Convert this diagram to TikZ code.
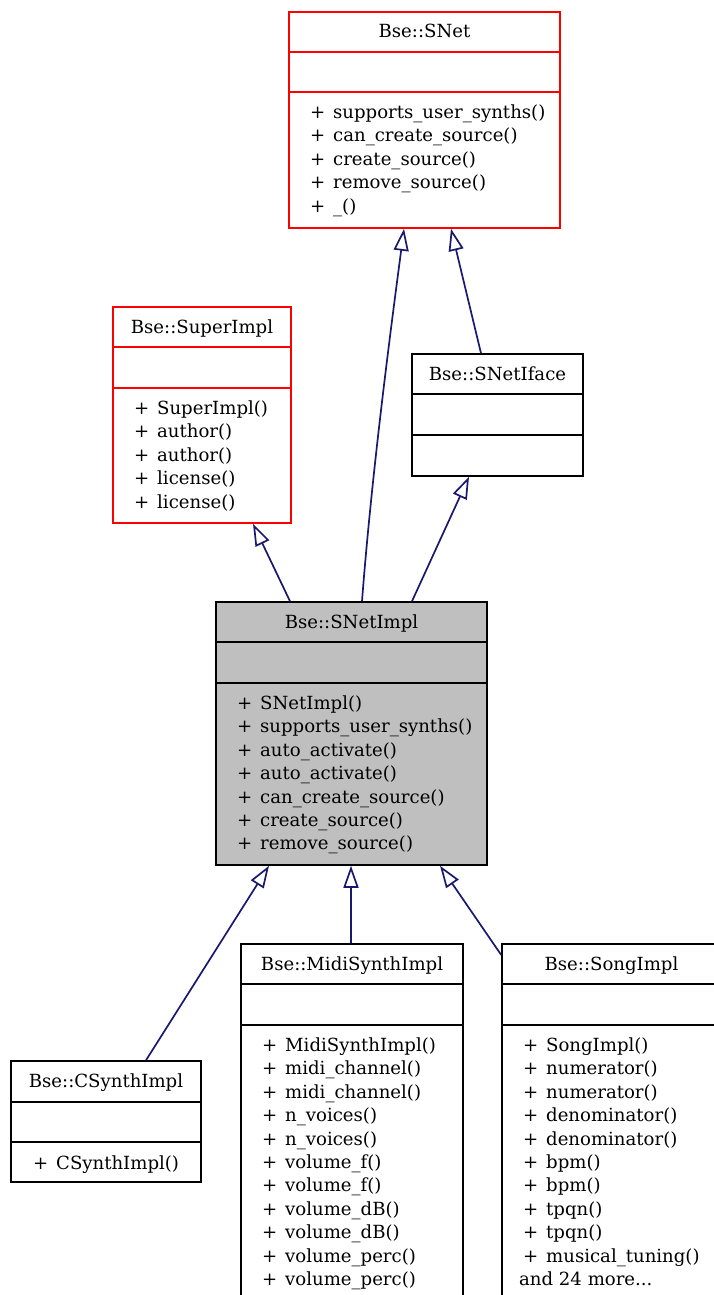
\documentclass[tikz,border=0pt]{standalone}
\usepackage{fontspec}
\setmainfont{DejaVu Serif}
\usetikzlibrary{arrows.meta,fit}

\definecolor{edgeblue}{HTML}{191970}
\definecolor{implgray}{HTML}{BFBFBF}
\definecolor{basered}{HTML}{FF0000}

% visibility marker followed by a fixed gap
\newcommand{\vis}{\makebox[23pt][l]{+}}

% one text node per member line, 23.4 units apart
\newcommand{\memberlist}[4]{%
  \foreach \m [count=\i from 0] in {#4}
    \node[member, name=#1-\i] at (#2, {#3+23.4*\i}) {\m};}

\tikzset{
  umltext/.style={inner sep=0pt, font=\fontsize{18.1pt}{23.4pt}\selectfont},
  classbox/.style={draw=black, line width=1.5pt, inner sep=0pt},
  basebox/.style={classbox, draw=basered},
  currentbox/.style={classbox, fill=implgray},
  divider/.style={line width=1.5pt},
  title/.style={umltext, anchor=base},
  member/.style={umltext, anchor=base west},
  inherit/.style={draw=edgeblue, line width=1.7pt,
    -{Triangle[open, length=22pt, width=15pt, line width=1.7pt]}},
}

\begin{document}
\begin{tikzpicture}[x=1pt, y=-1pt]
\useasboundingbox (0,0) rectangle (714,1295);
\clip (0,0) rectangle (714,1295);
\fill[white] (0,0) rectangle (714,1295);

% Bse::SNet
\node[basebox, fit={(289,12) (560,228)}] (snet) {};
\draw[divider, basered] (snet.west |- 0,52) -- (snet.east |- 0,52);
\draw[divider, basered] (snet.west |- 0,92) -- (snet.east |- 0,92);
\node[title] (snet-t) at (424.5,38) {Bse::SNet};
\memberlist{snet-m}{310}{118.5}{\vis supports\_user\_synths(), \vis can\_create\_source(), \vis create\_source(), \vis remove\_source(), \vis \_()}

% Bse::SuperImpl
\node[basebox, fit={(113,307) (291,523)}] (superimpl) {};
\draw[divider, basered] (superimpl.west |- 0,347) -- (superimpl.east |- 0,347);
\draw[divider, basered] (superimpl.west |- 0,388) -- (superimpl.east |- 0,388);
\node[title] (superimpl-t) at (202,333) {Bse::SuperImpl};
\memberlist{superimpl-m}{134}{414.5}{\vis SuperImpl(), \vis author(), \vis author(), \vis license(), \vis license()}

% Bse::SNetIface
\node[classbox, fit={(412,354) (583,476)}] (snetiface) {};
\draw[divider] (snetiface.west |- 0,394) -- (snetiface.east |- 0,394);
\draw[divider] (snetiface.west |- 0,435) -- (snetiface.east |- 0,435);
\node[title] (snetiface-t) at (497.5,380) {Bse::SNetIface};

% Bse::SNetImpl
\node[currentbox, fit={(216,602) (487,865)}] (snetimpl) {};
\draw[divider] (snetimpl.west |- 0,642) -- (snetimpl.east |- 0,642);
\draw[divider] (snetimpl.west |- 0,683) -- (snetimpl.east |- 0,683);
\node[title] (snetimpl-t) at (351.5,628) {Bse::SNetImpl};
\memberlist{snetimpl-m}{237}{709.5}{\vis SNetImpl(), \vis supports\_user\_synths(), \vis auto\_activate(), \vis auto\_activate(), \vis can\_create\_source(), \vis create\_source(), \vis remove\_source()}

% Bse::CSynthImpl
\node[classbox, fit={(11,1061) (201,1182)}] (csynth) {};
\draw[divider] (csynth.west |- 0,1102) -- (csynth.east |- 0,1102);
\draw[divider] (csynth.west |- 0,1142) -- (csynth.east |- 0,1142);
\node[title] (csynth-t) at (106,1087) {Bse::CSynthImpl};
\memberlist{csynth-m}{33}{1169}{\vis CSynthImpl()}

% Bse::MidiSynthImpl
\node[classbox, fit={(241,944) (463,1400)}] (midi) {};
\draw[divider] (midi.west |- 0,984) -- (midi.east |- 0,984);
\draw[divider] (midi.west |- 0,1025) -- (midi.east |- 0,1025);
\node[title] (midi-t) at (352,970) {Bse::MidiSynthImpl};
\memberlist{midi-m}{262}{1051.5}{\vis MidiSynthImpl(), \vis midi\_channel(), \vis midi\_channel(), \vis n\_voices(), \vis n\_voices(), \vis volume\_f(), \vis volume\_f(), \vis volume\_dB(), \vis volume\_dB(), \vis volume\_perc(), \vis volume\_perc()}

% Bse::SongImpl
\node[classbox, fit={(502,944) (721,1400)}] (song) {};
\draw[divider] (song.west |- 0,984) -- (song.east |- 0,984);
\draw[divider] (song.west |- 0,1025) -- (song.east |- 0,1025);
\node[title] (song-t) at (611.5,970) {Bse::SongImpl};
\memberlist{song-m}{523}{1051.5}{\vis SongImpl(), \vis numerator(), \vis numerator(), \vis denominator(), \vis denominator(), \vis bpm(), \vis bpm(), \vis tpqn(), \vis tpqn(), \vis musical\_tuning()}
\node[member] (song-more) at (519,1285.5) {and 24 more...};

% inheritance edges
\draw[inherit] (snetimpl.north -| 290,0) -- (superimpl.south -| 253,0);
\draw[inherit] (snetimpl.north -| 362,0) .. controls (372,470) and (392,320) .. (snet.south -| 404,0);
\draw[inherit] (snetimpl.north -| 412,0) -- (snetiface.south -| 469,0);
\draw[inherit] (snetiface.north -| 481,0) -- (snet.south -| 451,0);
\draw[inherit] (csynth.north -| 146,0) -- (snetimpl.south -| 269,0);
\draw[inherit] (midi.north -| 351,0) -- (snetimpl.south -| 351,0);
\draw[inherit] (song.west |- 0,955) -- (snetimpl.south -| 440,0);
\end{tikzpicture}
\end{document}
